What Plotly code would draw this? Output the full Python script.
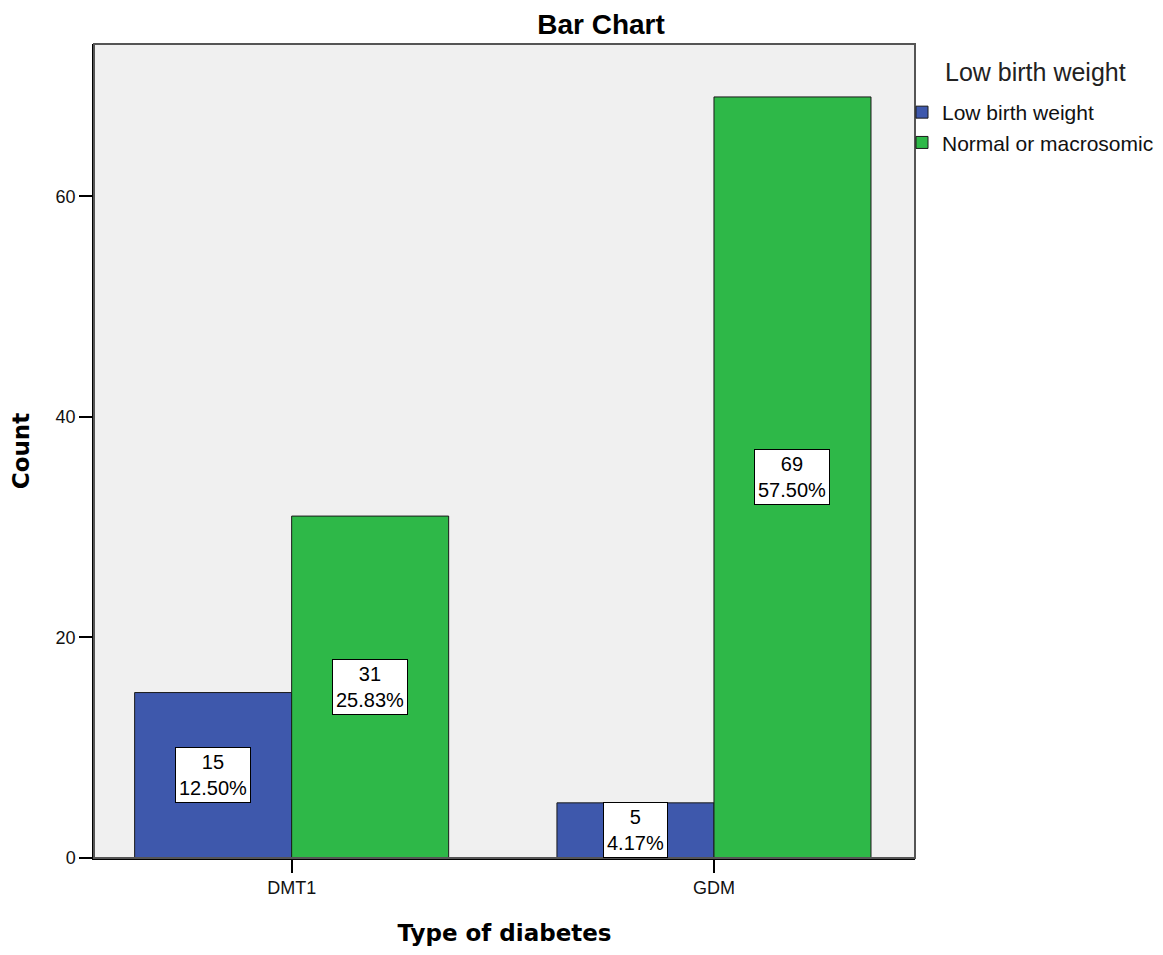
import plotly.graph_objects as go

categories = ["DMT1", "GDM"]
series_names = ["Low birth weight", "Normal or macrosomic"]
low_counts = [15, 5]
normal_counts = [31, 69]
low_pct = ["12.50%", "4.17%"]
normal_pct = ["25.83%", "57.50%"]
y_ticks = [0, 20, 40, 60]

colors = ["#3E58AC", "#2EB848"]
BARGAP = 0.2564
bar_w = (1 - BARGAP) / 2

# page has an 8px body margin; figure sized to fit the window
OFF = 8
W, H = 1147, 939
L, R, T, B = 86, 240, 36, 89
pw, ph = W - L - R, H - T - B


def px_x(x):
    return (x - OFF - L) / pw


def px_y(y):
    return (H - B - (y - OFF)) / ph


fig = go.Figure()
for name, vals, col in zip(series_names, [low_counts, normal_counts], colors):
    fig.add_trace(go.Bar(
        x=categories, y=vals, name=name,
        marker=dict(color=col, line=dict(color="#1a1a1a", width=1)),
        hoverinfo="x+y+name",
    ))

annotations = []
for s, (vals, pcts) in enumerate([(low_counts, low_pct), (normal_counts, normal_pct)]):
    off = (s - 0.5) * bar_w
    for i, (v, p) in enumerate(zip(vals, pcts)):
        annotations.append(dict(
            x=i + off, y=v / 2, xref="x", yref="y",
            text=f"{v}<br>{p}", showarrow=False,
            font=dict(family="Liberation Sans, Arial", size=20, color="#000"),
            bgcolor="white", bordercolor="#000", borderwidth=1, borderpad=3,
            xanchor="center", yanchor="middle",
        ))

# legend title (aligned with legend item text)
annotations.append(dict(
    x=px_x(943), y=px_y(72), xref="paper", yref="paper", text="Low birth weight",
    showarrow=False, font=dict(family="Liberation Sans, Arial", size=25, color="#222"),
    xanchor="left", yanchor="middle",
))

fig.update_layout(
    width=W, height=H,
    margin=dict(l=L, r=R, t=T, b=B, autoexpand=False),
    paper_bgcolor="white", plot_bgcolor="#F0F0F0",
    barmode="group", bargap=BARGAP, bargroupgap=0,
    title=dict(text="<b>Bar Chart</b>", x=(601 - OFF) / W, xanchor="center",
               y=1 - (24 - OFF) / H, yanchor="middle",
               font=dict(family="Liberation Sans, Arial", size=28, color="#000")),
    font=dict(family="Liberation Sans, Arial", color="#000"),
    showlegend=True,
    legend=dict(x=px_x(902), y=px_y(92), xanchor="left", yanchor="top",
                bgcolor="rgba(0,0,0,0)",
                font=dict(family="Liberation Sans, Arial", size=21, color="#111"),
                tracegroupgap=0, itemclick=False),
    annotations=annotations,
    xaxis=dict(
        type="category", range=[-0.468, 1.476],
        showline=True, linecolor="#000", linewidth=1.5,
        ticks="outside", ticklen=13, tickcolor="#000", tickwidth=1.5,
        tickfont=dict(family="Liberation Sans, Arial", size=18, color="#111"),
        showgrid=False, zeroline=False,
        title=dict(text="<b>Type of diabetes</b>", standoff=28,
                   font=dict(family="DejaVu Sans", size=23, color="#000")),
    ),
    yaxis=dict(
        range=[0, 73.8], tickvals=y_ticks,
        showline=True, linecolor="#000", linewidth=1.5,
        ticks="outside", ticklen=13, tickcolor="#000", tickwidth=1.5,
        tickfont=dict(family="Liberation Sans, Arial", size=18, color="#111"),
        showgrid=False, zeroline=False,
        title=dict(text="<b>Count</b>", standoff=22,
                   font=dict(family="DejaVu Sans", size=23, color="#000")),
    ),
    shapes=[dict(type="rect", xref="paper", yref="paper", x0=0, x1=1, y0=0, y1=1,
                 line=dict(color="#555", width=2), layer="above")],
)

fig.write_html("out.html")
